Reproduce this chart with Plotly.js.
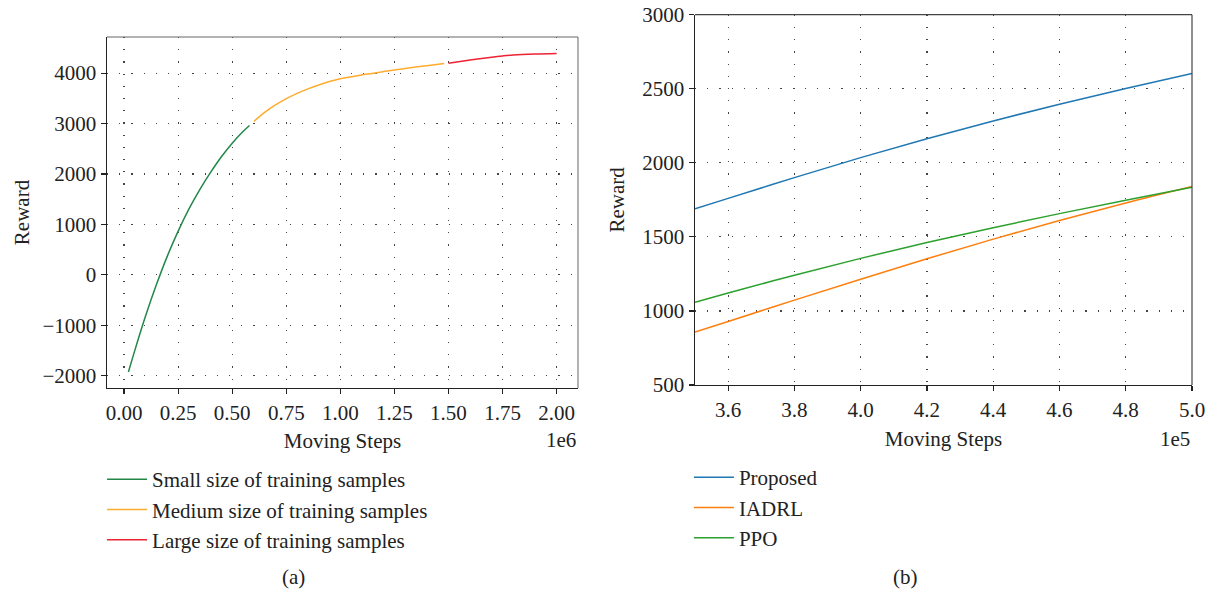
<!DOCTYPE html>
<html>
<head>
<meta charset="utf-8">
<script src="https://cdn.plot.ly/plotly-3.0.1.min.js"></script>
<style>html,body{margin:0;padding:0;background:#fff;}#chart{width:1215px;height:589px;}</style>
</head>
<body>
<div id="chart"></div>
<script>
// ---- Panel (a): moving steps in units of 1e6 ----
const smallSteps  = [0.02, 0.05, 0.10, 0.15, 0.20, 0.25, 0.30, 0.35, 0.40, 0.45, 0.50, 0.55, 0.58];
const smallReward = [-1930, -1495, -810, -190, 370, 865, 1305, 1690, 2030, 2340, 2610, 2840, 2960];
const mediumSteps  = [0.60, 0.65, 0.70, 0.75, 0.80, 0.85, 0.90, 0.95, 1.00, 1.10, 1.20, 1.25, 1.30, 1.40, 1.48];
const mediumReward = [3040, 3220, 3368, 3493, 3598, 3688, 3765, 3833, 3888, 3965, 4030, 4060, 4090, 4148, 4190];
const largeSteps  = [1.50, 1.60, 1.70, 1.75, 1.80, 1.90, 2.00];
const largeReward = [4197, 4258, 4315, 4340, 4360, 4380, 4390];
const seriesNamesA = ["Small size of training samples", "Medium size of training samples", "Large size of training samples"];

// ---- Panel (b): moving steps in units of 1e5 ----
const stepsB    = [3.5, 3.6, 3.8, 4.0, 4.2, 4.4, 4.6, 4.8, 5.0];
const proposed  = [1690, 1760, 1900, 2035, 2162, 2283, 2396, 2502, 2603];
const iadrl     = [857, 929, 1073, 1214, 1352, 1485, 1611, 1729, 1840];
const ppo       = [1059, 1121, 1241, 1355, 1462, 1562, 1657, 1747, 1835];
const seriesNamesB = ["Proposed", "IADRL", "PPO"];

const FONT = "Liberation Serif, Times New Roman, serif";
const TXT = "#222";
const FS = 21;

function line(x, y, name, color, xa, ya, leg) {
  return {x: x, y: y, name: name, type: "scatter", mode: "lines",
          line: {color: color, width: 1.5, shape: "spline", smoothing: 1},
          xaxis: xa, yaxis: ya, legend: leg, showlegend: true};
}

const data = [
  line(smallSteps, smallReward, seriesNamesA[0], "#23874a", "x", "y", "legend"),
  line(mediumSteps, mediumReward, seriesNamesA[1], "#ffab2e", "x", "y", "legend"),
  line(largeSteps, largeReward, seriesNamesA[2], "#ee2233", "x", "y", "legend"),
  line(stepsB, proposed, seriesNamesB[0], "#1f77b4", "x2", "y2", "legend2"),
  line(stepsB, iadrl, seriesNamesB[1], "#ff7f0e", "x2", "y2", "legend2"),
  line(stepsB, ppo, seriesNamesB[2], "#2ca02c", "x2", "y2", "legend2")
];

const axisCommon = {showgrid: true, gridcolor: "#444", gridwidth: 1.2, griddash: "1.2px,11px",
  zeroline: false, showline: true, linecolor: "#222", linewidth: 1.5,
  ticks: "outside", ticklen: 5, tickwidth: 1.2, tickcolor: "#222",
  tickfont: {family: FONT, size: FS, color: TXT}};

const titleFont = {family: FONT, size: FS, color: TXT};

const layout = {
  width: 1215, height: 589,
  margin: {l: 0, r: 0, t: 0, b: 0},
  paper_bgcolor: "#fff", plot_bgcolor: "#fff",
  font: {family: FONT, color: TXT},
  xaxis: Object.assign({}, axisCommon, {domain: [0.08807, 0.47572], range: [-0.079, 2.099],
    tick0: 0, dtick: 0.25, tickformat: ".2f", anchor: "y",
    title: {text: "Moving Steps", font: titleFont, standoff: 9}}),
  yaxis: Object.assign({}, axisCommon, {domain: [0.34126, 0.93718], range: [-2246, 4716],
    tick0: 0, dtick: 1000, anchor: "x",
    title: {text: "Reward", font: titleFont, standoff: 7}}),
  xaxis2: Object.assign({}, axisCommon, {domain: [0.57202, 0.98107], range: [3.5, 5.0],
    tick0: 3.6, dtick: 0.2, tickformat: ".1f", anchor: "y2",
    title: {text: "Moving Steps", font: titleFont, standoff: 10}}),
  yaxis2: Object.assign({}, axisCommon, {domain: [0.34635, 0.97504], range: [500, 3000],
    tick0: 500, dtick: 500, anchor: "x2",
    title: {text: "Reward", font: titleFont, standoff: 12}}),
  legend: {x: 0.084, y: 1 - 459/589, xanchor: "left", yanchor: "top",
    font: {family: FONT, size: FS, color: TXT}, bgcolor: "rgba(0,0,0,0)", itemwidth: 40},
  legend2: {x: 0.567, y: 1 - 457/589, xanchor: "left", yanchor: "top",
    font: {family: FONT, size: FS, color: TXT}, bgcolor: "rgba(0,0,0,0)", itemwidth: 40},
  shapes: [
    {type: "line", xref: "x domain", yref: "y domain", x0: 0, x1: 1, y0: 1, y1: 1, line: {color: "#666", width: 1}},
    {type: "line", xref: "x domain", yref: "y domain", x0: 1, x1: 1, y0: 0, y1: 1, line: {color: "#666", width: 1}},
    {type: "line", xref: "x2 domain", yref: "y2 domain", x0: 0, x1: 1, y0: 1, y1: 1, line: {color: "#444", width: 1.2}},
    {type: "line", xref: "x2 domain", yref: "y2 domain", x0: 1, x1: 1, y0: 0, y1: 1, line: {color: "#444", width: 1.2}}
  ],
  annotations: [
    {text: "1e6", xref: "x domain", x: 1, xanchor: "right", yref: "paper", y: 1 - 440/589, yanchor: "middle",
     showarrow: false, font: titleFont},
    {text: "1e5", xref: "x2 domain", x: 1, xanchor: "right", yref: "paper", y: 1 - 439/589, yanchor: "middle",
     showarrow: false, font: titleFont},
    {text: "(a)", xref: "paper", x: 293/1215, xanchor: "center", yref: "paper", y: 1 - 577/589, yanchor: "middle",
     showarrow: false, font: titleFont},
    {text: "(b)", xref: "paper", x: 905/1215, xanchor: "center", yref: "paper", y: 1 - 577/589, yanchor: "middle",
     showarrow: false, font: titleFont}
  ]
};

Plotly.newPlot("chart", data, layout, {displayModeBar: false, staticPlot: true});
</script>
</body>
</html>
